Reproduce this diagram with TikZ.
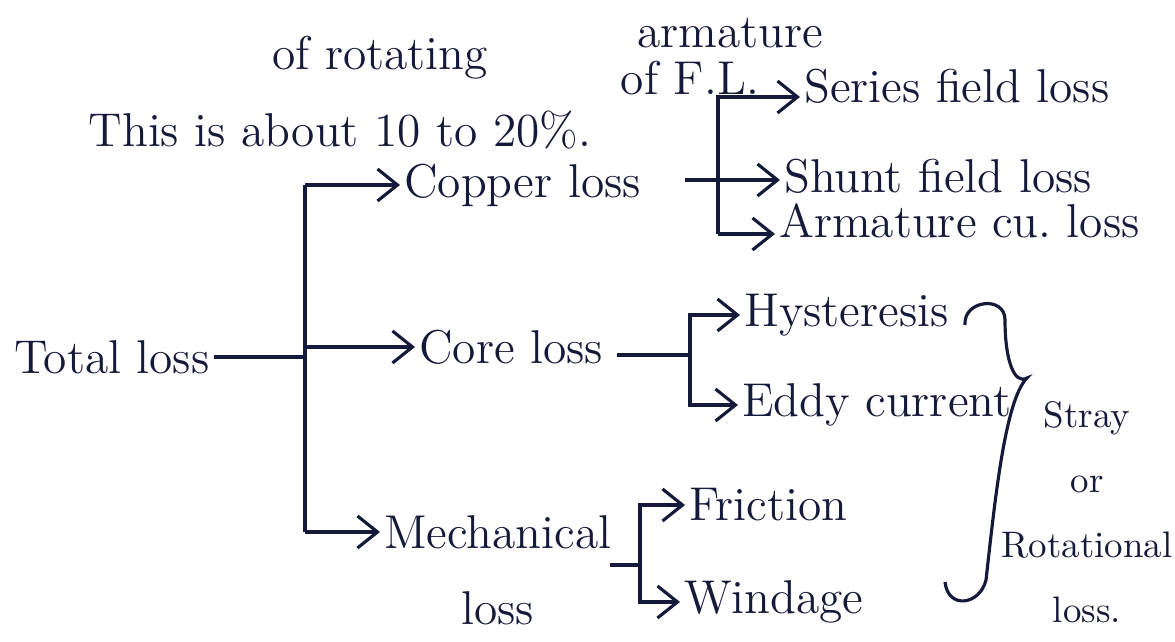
\documentclass[tikz,border=0pt]{standalone}
\usepackage{xcolor}
\usepackage{tikz}
\usetikzlibrary{arrows.meta,positioning,calc}
\definecolor{ink}{RGB}{22,26,58}

\begin{document}
\begin{tikzpicture}[
    txt/.style={font=\fontsize{13.5}{16}\selectfont, text=ink, inner sep=1pt},
    wire/.style={ink, line width=0.9pt},
    arrow/.style={wire, -{Straight Barb[length=2mm,width=3.2mm]}}
]
\useasboundingbox (0,0) rectangle (11.75,-6.42);

% Nodes
\node[txt] (rot) at (3.80,-0.58) {of rotating};
\node[txt] (arm) at (7.30,-0.33) {armature};
\node[txt] (note) at (3.40,-1.30) {This is about 10 to 20\%.};
\node[txt] (fl) at (6.90,-0.78) {of F.L.};
\node[txt, anchor=west] (total) at (0.10,-3.57) {Total loss};
\node[txt, anchor=west] (copper) at (4.00,-1.85) {Copper loss};
\node[txt, anchor=west] (core) at (4.15,-3.47) {Core loss};
\node[txt, anchor=west] (mech) at (3.80,-5.32) {Mechanical};
\node[txt, below=0.34cm of mech] (mechloss) {loss};
\node[txt, anchor=west] (series) at (8.00,-0.86) {Series field loss};
\node[txt, anchor=west] (shunt) at (7.80,-1.76) {Shunt field loss};
\node[txt, anchor=west] (armcu) at (7.75,-2.21) {Armature cu.\ loss};
\node[txt, anchor=west] (hyst) at (7.40,-3.15) {Hysteresis};
\node[txt, anchor=west] (eddy) at (7.38,-4.05) {Eddy current};
\node[txt, anchor=west] (fric) at (6.85,-5.05) {Friction};
\node[txt, anchor=west] (wind) at (6.80,-6.02) {Windage};
\node[txt, font=\fontsize{10.5}{18.5}\selectfont, align=center] (stray) at (10.87,-5.12) {Stray\\or\\Rotational\\loss.};

\coordinate (trunk) at (3.05,-3.57);
\coordinate (cu) at (7.18,-1.80);
\coordinate (cubot) at (7.18,-2.34);
\coordinate (cutop) at (7.18,-0.97);
\coordinate (co) at (6.90,-3.55);
\coordinate (me) at (6.40,-5.65);
\coordinate (mestub) at (6.10,-5.65);

% Arrows
\draw[wire] (total.east) -- (total.east -| trunk);
\draw[wire] (copper.west -| trunk) -- (mech.west -| trunk);
\draw[arrow] (copper.west -| trunk) -- (copper.west);
\draw[arrow] (core.west -| trunk) -- (core.west);
\draw[arrow] (mech.west -| trunk) -- (mech.west);

\draw[wire] ([xshift=4mm]copper.east |- cu) -- (cu);
\draw[arrow] (cu) -- (shunt.west |- cu);
\draw[arrow] (cubot) -- (cutop) -- (series.west |- cutop);
\draw[arrow] (cubot) -- (armcu.west |- cubot);

\draw[wire] ([xshift=1mm]core.east |- co) -- (co);
\draw[arrow] (co) |- (hyst.west);
\draw[arrow] (co) |- (eddy.west);

\draw[wire] (mestub) -- (me);
\draw[arrow] (me) |- (fric.west);
\draw[arrow] (me) |- (wind.west);

% brace
\draw[wire] (9.65,-3.25) .. controls (9.63,-3.00) and (10.05,-2.95) .. (10.05,-3.20)
  .. controls (10.05,-3.60) and (10.14,-3.85) .. (10.27,-3.78)
  .. controls (10.05,-4.00) and (9.95,-5.00) .. (9.86,-5.80)
  .. controls (9.80,-6.05) and (9.48,-6.10) .. (9.45,-5.82);

\end{tikzpicture}
\end{document}
